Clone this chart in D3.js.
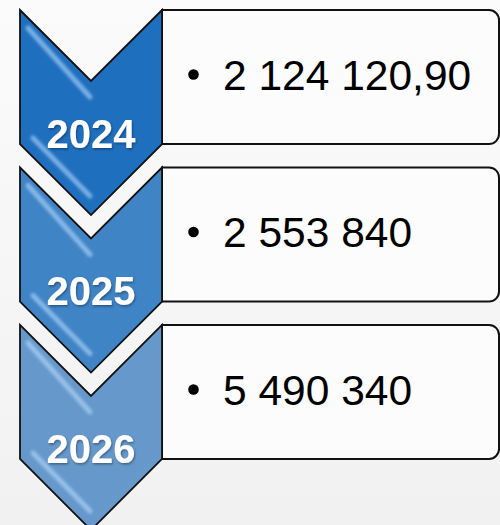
<!DOCTYPE html>
<html>
<head>
<meta charset="utf-8">
<script src="https://cdn.jsdelivr.net/npm/d3@7"></script>
<style>
  html, body { margin: 0; padding: 0; background: #f7f7f7; }
  svg { display: block; }
</style>
</head>
<body>
<svg id="chart" width="500" height="525"></svg>
<script>
// data
const years = ["2024", "2025", "2026"];
const values = ["2 124 120,90", "2 553 840", "5 490 340"];
const chevronColors = ["#1f6fbf", "#3f84c5", "#6698cb"];

const svg = d3.select("#chart");
const width = 500, height = 525;

const defs = svg.append("defs");

const bg = defs.append("linearGradient").attr("id", "bg")
    .attr("x1", 0).attr("y1", 0).attr("x2", 0).attr("y2", 1);
bg.append("stop").attr("offset", "0%").attr("stop-color", "#fbfbfb");
bg.append("stop").attr("offset", "100%").attr("stop-color", "#f1f1f1");

defs.append("filter").attr("id", "soft")
    .attr("x", "-20%").attr("y", "-20%").attr("width", "140%").attr("height", "140%")
    .append("feGaussianBlur").attr("stdDeviation", 1.5);

const ts = defs.append("filter").attr("id", "tshadow")
    .attr("x", "-20%").attr("y", "-20%").attr("width", "140%").attr("height", "140%");
ts.append("feDropShadow").attr("dx", 1).attr("dy", 1.5).attr("stdDeviation", 1.2)
    .attr("flood-color", "#000").attr("flood-opacity", 0.35);

svg.append("rect").attr("width", width).attr("height", height).attr("fill", "url(#bg)");

// layout scales
const y = d3.scaleBand()
    .domain(years)
    .range([10, 459])
    .paddingInner(0.149)
    .paddingOuter(0);

const x = d3.scaleLinear().domain([0, 1]).range([20, 162]);  // chevron left..right
const boxRight = 499;
const radius = 10;

const rows = years.map((yr, i) => ({ year: yr, value: values[i], color: chevronColors[i] }));

const g = svg.selectAll("g.row")
    .data(rows)
    .enter().append("g")
    .attr("class", "row");

// text boxes
g.append("path")
    .attr("d", d => {
        const t = y(d.year), b = t + y.bandwidth(), l = x(1), r = boxRight;
        return `M${l},${t} H${r - radius} A${radius},${radius} 0 0 1 ${r},${t + radius}` +
               ` V${b - radius} A${radius},${radius} 0 0 1 ${r - radius},${b} H${l} Z`;
    })
    .attr("fill", "#fcfcfc")
    .attr("stroke", "#111")
    .attr("stroke-width", 2);

// chevrons
const half = (x(1) - x(0)) / 2;
g.append("path")
    .attr("d", d => {
        const t = y(d.year), b = t + y.bandwidth(), cx = x(0.5);
        return `M${x(0)},${t} L${cx},${t + half} L${x(1)},${t} L${x(1)},${b} L${cx},${b + half} L${x(0)},${b} Z`;
    })
    .attr("fill", d => d.color)
    .attr("stroke", "#111")
    .attr("stroke-width", 1.8)
    .attr("stroke-linejoin", "miter");

// bevel highlights
g.append("path")
    .attr("d", d => {
        const t = y(d.year), b = t + y.bandwidth(), cx = x(0.5);
        return `M${x(0) + 8},${t + 18} L${cx - 1},${t + half + 16}` +
               ` M${x(0) + 13},${b - 6} L${cx - 1},${b + half - 19}`;
    })
    .attr("stroke", "#b8dcff")
    .attr("stroke-opacity", 0.6)
    .attr("stroke-width", 5)
    .attr("stroke-linecap", "round")
    .attr("fill", "none")
    .attr("filter", "url(#soft)");

// year labels
g.append("text")
    .attr("x", x(0.5))
    .attr("y", d => y(d.year) + 138)
    .attr("text-anchor", "middle")
    .attr("font-family", "'Liberation Sans', Arial, sans-serif")
    .attr("font-weight", "bold")
    .attr("font-size", 40)
    .attr("fill", "#fff")
    .attr("filter", "url(#tshadow)")
    .text(d => d.year);

// bullets and values
g.append("circle")
    .attr("cx", 193.5)
    .attr("cy", d => y(d.year) + 64.5)
    .attr("r", 5.3)
    .attr("fill", "#000");

g.append("text")
    .attr("x", 223)
    .attr("y", d => y(d.year) + 80)
    .attr("font-family", "'Liberation Sans', Arial, sans-serif")
    .attr("font-size", 42.5)
    .attr("fill", "#000")
    .text(d => d.value);
</script>
</body>
</html>
